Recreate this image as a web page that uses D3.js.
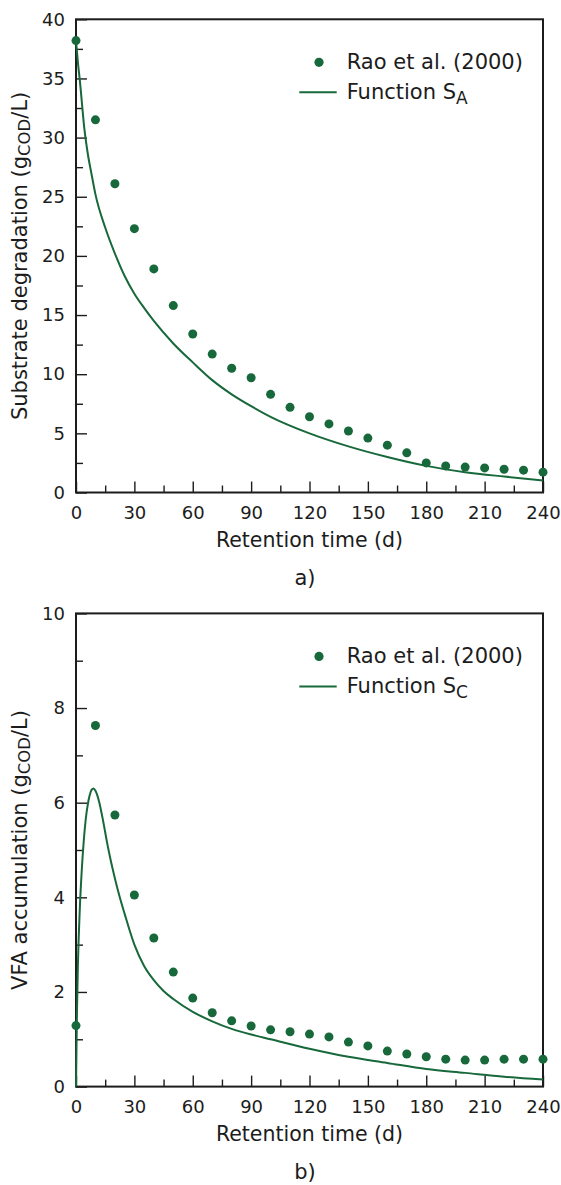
<!DOCTYPE html>
<html>
<head>
<meta charset="utf-8">
<script src="https://cdn.jsdelivr.net/npm/d3@7"></script>
<style>
  body { margin: 0; background: #fff; }
  text { font-family: "DejaVu Sans", sans-serif; fill: #1c1c1c; }
</style>
</head>
<body>
<div id="chart"></div>
<script>
// measured days (Rao et al. 2000)
var days = [0, 10, 20, 30, 40, 50, 60, 70, 80, 90, 100, 110, 120, 130, 140, 150, 160, 170, 180, 190, 200, 210, 220, 230, 240];
var raoSubstrate = [38.2, 31.5, 26.1, 22.3, 18.9, 15.8, 13.4, 11.7, 10.5, 9.7, 8.3, 7.2, 6.4, 5.8, 5.2, 4.6, 4.0, 3.35, 2.5, 2.25, 2.15, 2.08, 1.97, 1.89, 1.72];
var raoVFA = [1.29, 7.63, 5.74, 4.05, 3.14, 2.42, 1.87, 1.56, 1.39, 1.28, 1.20, 1.16, 1.11, 1.05, 0.94, 0.86, 0.75, 0.69, 0.63, 0.58, 0.56, 0.56, 0.58, 0.58, 0.58];

// model curves
var fitDaysA = [0, 1, 2, 3, 4, 6, 8, 10, 15, 20, 25, 30, 35, 40, 50, 60, 70, 80, 90, 100, 120, 140, 160, 180, 200, 220, 240];
var fitSA = [38.2, 36.3, 34.8, 33.0, 31.2, 28.7, 26.9, 25.2, 22.4, 20.2, 18.3, 16.8, 15.6, 14.5, 12.6, 11.0, 9.5, 8.3, 7.3, 6.4, 5.0, 3.9, 3.0, 2.25, 1.72, 1.35, 1.02];
var fitDaysC = [0, 0.5, 1, 2, 3, 4, 5, 6, 7, 8, 9, 10, 11, 12, 14, 16, 18, 20, 22.5, 25, 30, 35, 40, 45, 50, 60, 70, 80, 90, 100, 120, 140, 160, 180, 200, 220, 240];
var fitSC = [0, 1.6, 2.6, 3.8, 4.6, 5.2, 5.65, 5.95, 6.15, 6.27, 6.3, 6.25, 6.15, 6.0, 5.6, 5.15, 4.75, 4.4, 4.0, 3.65, 3.0, 2.55, 2.25, 2.02, 1.85, 1.58, 1.38, 1.22, 1.1, 1.0, 0.8, 0.63, 0.5, 0.37, 0.29, 0.21, 0.15];

var xMajor = [0, 30, 60, 90, 120, 150, 180, 210, 240];
var xMinor = [15, 45, 75, 105, 135, 165, 195, 225];
var yMajorA = [0, 5, 10, 15, 20, 25, 30, 35, 40];
var yMinorA = [2.5, 7.5, 12.5, 17.5, 22.5, 27.5, 32.5, 37.5];
var yMajorC = [0, 2, 4, 6, 8, 10];
var yMinorC = [1, 3, 5, 7, 9];

var green = "#17683a";
var W = 561, H = 1185;
var left = 76, right = 543, plotH = 473.2;

var svg = d3.select("#chart").append("svg")
  .attr("width", W)
  .attr("height", H);

var x = d3.scaleLinear().domain([0, 240]).range([left, right]);

drawPanel({
  top: 19.3, yMax: 40, yMajor: yMajorA, yMinor: yMinorA,
  dots: raoSubstrate, fitT: fitDaysA, fitV: fitSA,
  title: "Substrate degradation (g", sub: "A", caption: "a)"
});
drawPanel({
  top: 613.4, yMax: 10, yMajor: yMajorC, yMinor: yMinorC,
  dots: raoVFA, fitT: fitDaysC, fitV: fitSC,
  title: "VFA accumulation (g", sub: "C", caption: "b)"
});

function drawPanel(p) {
  var bottom = p.top + plotH;
  var y = d3.scaleLinear().domain([0, p.yMax]).range([bottom, p.top]);

  // ticks pointing inward
  var gx = svg.append("g").attr("transform", "translate(0," + bottom + ")");
  gx.call(d3.axisBottom(x).tickValues(xMajor).tickSize(-11).tickSizeOuter(0).tickPadding(14));
  var gx2 = svg.append("g").attr("transform", "translate(0," + bottom + ")");
  gx2.call(d3.axisBottom(x).tickValues(xMinor).tickSize(-7).tickSizeOuter(0).tickFormat(""));

  var gy = svg.append("g").attr("transform", "translate(" + left + ",0)");
  gy.call(d3.axisLeft(y).tickValues(p.yMajor).tickSize(-11).tickSizeOuter(0).tickPadding(11));
  var gy2 = svg.append("g").attr("transform", "translate(" + left + ",0)");
  gy2.call(d3.axisLeft(y).tickValues(p.yMinor).tickSize(-7).tickSizeOuter(0).tickFormat(""));

  [gx, gx2, gy, gy2].forEach(function (g) {
    g.select(".domain").remove();
    g.selectAll("line").attr("stroke", "#1c1c1c").attr("stroke-width", 1.4);
    g.selectAll("text").style("font-size", "18px").attr("fill", "#1c1c1c");
  });

  // frame
  svg.append("rect")
    .attr("x", left).attr("y", p.top)
    .attr("width", right - left).attr("height", plotH)
    .attr("fill", "none")
    .attr("stroke", "#1c1c1c")
    .attr("stroke-width", 2);

  // model line
  var line = d3.line()
    .x(function (d) { return x(d[0]); })
    .y(function (d) { return y(d[1]); })
    .curve(d3.curveMonotoneX);
  svg.append("path")
    .datum(p.fitT.map(function (t, i) { return [t, p.fitV[i]]; }))
    .attr("d", line)
    .attr("fill", "none")
    .attr("stroke", green)
    .attr("stroke-width", 2);

  // measured points
  svg.selectAll(null)
    .data(p.dots)
    .enter()
    .append("circle")
    .attr("cx", function (d, i) { return x(days[i]); })
    .attr("cy", function (d) { return y(d); })
    .attr("r", 4.5)
    .attr("fill", green);

  // axis titles
  svg.append("text")
    .attr("x", (left + right) / 2)
    .attr("y", bottom + 54.5)
    .attr("text-anchor", "middle")
    .style("font-size", "20.5px")
    .text("Retention time (d)");

  var yt = svg.append("text")
    .attr("transform", "translate(27," + (p.top + plotH / 2) + ") rotate(-90)")
    .attr("text-anchor", "middle")
    .style("font-size", "21px");
  yt.append("tspan").text(p.title);
  yt.append("tspan").attr("dy", 3).style("font-size", "16.5px").text("COD");
  yt.append("tspan").attr("dy", -3).text("/L)");

  // caption
  svg.append("text")
    .attr("x", 305)
    .attr("y", bottom + 92)
    .attr("text-anchor", "middle")
    .style("font-size", "21px")
    .text(p.caption);

  // legend
  var lg = svg.append("g").attr("transform", "translate(0," + p.top + ")");
  lg.append("circle").attr("cx", 319).attr("cy", 43).attr("r", 4.6).attr("fill", green);
  lg.append("text").attr("x", 346.7).attr("y", 50).style("font-size", "21px").text("Rao et al. (2000)");
  lg.append("line")
    .attr("x1", 299.3).attr("x2", 336.7)
    .attr("y1", 73).attr("y2", 73)
    .attr("stroke", green).attr("stroke-width", 2);
  var ft = lg.append("text").attr("x", 346.7).attr("y", 79.7).style("font-size", "21px");
  ft.append("tspan").text("Function S");
  ft.append("tspan").attr("dy", 5).style("font-size", "17px").text(p.sub);
}
</script>
</body>
</html>
